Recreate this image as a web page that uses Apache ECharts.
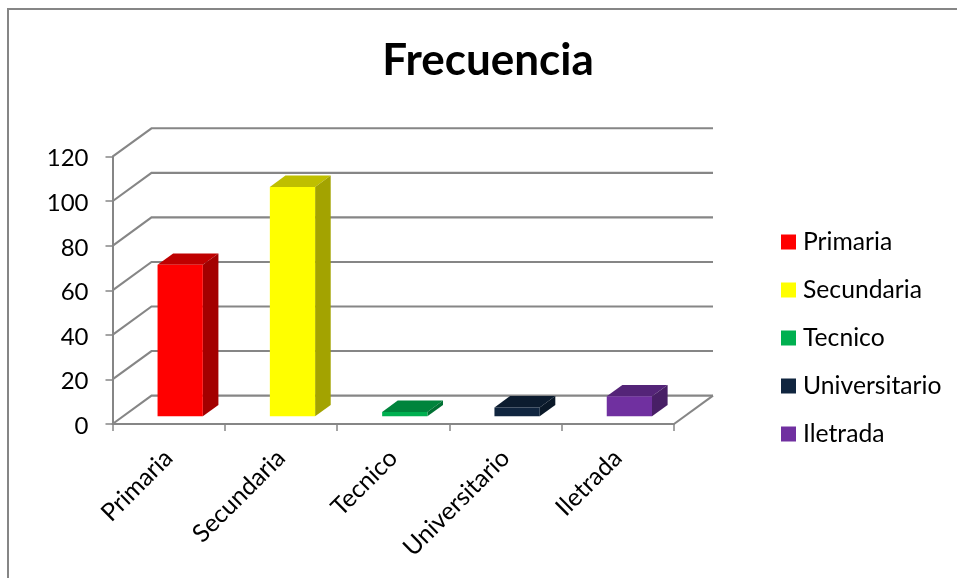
<!DOCTYPE html>
<html>
<head>
<meta charset="utf-8">
<style>html,body{margin:0;padding:0;background:#fff}#c{width:957px;height:578px}</style>
<script src="https://cdn.jsdelivr.net/npm/echarts@6/dist/echarts.min.js"></script>
</head>
<body>
<div id="c"></div>
<script>
const chartTitle = 'Frecuencia';
const categories = ['Primaria', 'Secundaria', 'Tecnico', 'Universitario', 'Iletrada'];
const values = [68, 103, 2, 4, 9];
const colors = ['#FF0000', '#FFFF00', '#00B050', '#10253F', '#7030A0'];
const yTicks = [0, 20, 40, 60, 80, 100, 120];

const GREY = '#868686';
const FONT = 'Lato';
// Oblique projection of the depth axis, as a fraction of one category band
const DEPTH_X = 39 / 112.3;
const DEPTH_Y = 28.4 / 112.3;
const BAR_WIDTH = 0.403;
const BAR_NEAR = 0.27;
const BAR_DEEP = 0.40;

function shade(hex, f) {
  const n = parseInt(hex.slice(1), 16);
  const c = [(n >> 16) & 255, (n >> 8) & 255, n & 255].map(v => Math.round(v * f));
  return 'rgb(' + c.join(',') + ')';
}

function renderWall(params, api) {
  const v = api.value(0);
  const band = api.size([1, 0])[0];
  const dx = band * DEPTH_X, dy = band * DEPTH_Y;
  const a = api.coord([0, v]);
  const x0 = a[0] - band / 2, y = a[1];
  const x1 = x0 + band * categories.length;
  const style = { stroke: GREY, lineWidth: 2.1, fill: null };
  const children = [{
    type: 'polyline',
    shape: { points: [[x0, y], [x0 + dx, y - dy], [x1 + dx, y - dy]] },
    style: style
  }];
  if (v === 0) {
    children.push({
      type: 'line',
      shape: { x1: x1, y1: y, x2: x1 + dx, y2: y - dy },
      style: style
    });
  }
  return { type: 'group', children: children };
}

function renderBar(params, api) {
  const color = api.visual('color');
  const band = api.size([1, 0])[0];
  const base = api.coord([api.value(0), 0]);
  const top = api.coord([api.value(0), api.value(1)]);
  const w = band * BAR_WIDTH;
  const nx = band * DEPTH_X * BAR_NEAR, ny = band * DEPTH_Y * BAR_NEAR;
  const dx = band * DEPTH_X * BAR_DEEP, dy = band * DEPTH_Y * BAR_DEEP;
  const l = base[0] + nx - w / 2 + 1, r = l + w;
  const b = base[1] - ny, t = top[1] - ny;
  return {
    type: 'group',
    children: [
      { type: 'polygon', shape: { points: [[l, t], [r, t], [r + dx, t - dy], [l + dx, t - dy]] }, style: { fill: shade(color, 0.75) } },
      { type: 'polygon', shape: { points: [[r, t], [r + dx, t - dy], [r + dx, b - dy], [r, b]] }, style: { fill: shade(color, 0.64) } },
      { type: 'rect', shape: { x: l, y: t, width: w, height: b - t }, style: { fill: color } }
    ]
  };
}

const chart = echarts.init(document.getElementById('c'), null, { renderer: 'canvas' });

const barSeries = categories.map((name, i) => ({
  name: name,
  type: 'custom',
  renderItem: renderBar,
  itemStyle: { color: colors[i] },
  encode: { x: 0, y: 1 },
  data: [[i, values[i]]],
  z: 3,
  silent: true
}));

chart.setOption({
  animation: false,
  backgroundColor: '#fff',
  title: {
    text: chartTitle,
    left: 483,
    top: 34,
    textAlign: 'center',
    textStyle: { fontFamily: FONT, fontWeight: 'bold', fontSize: 44, color: '#000' }
  },
  legend: {
    orient: 'vertical',
    left: 781,
    top: 228,
    icon: 'rect',
    itemWidth: 15,
    itemHeight: 15,
    itemGap: 20,
    padding: 0,
    data: categories,
    selectedMode: false,
    textStyle: { fontFamily: FONT, fontSize: 24.7, color: '#000', padding: [3, 0, 0, 2], lineHeight: 25 }
  },
  grid: { left: 112.5, right: 283, top: 156.7, bottom: 154 },
  xAxis: {
    type: 'category',
    data: categories,
    axisLine: { lineStyle: { color: GREY, width: 2 } },
    axisTick: { show: true, length: 7, lineStyle: { color: GREY, width: 1.5 } },
    axisLabel: { rotate: 45, margin: 30, interval: 0, fontFamily: FONT, fontSize: 24.7, color: '#000' },
    splitLine: { show: false }
  },
  yAxis: {
    type: 'value',
    min: 0,
    max: 120,
    interval: 20,
    axisLine: { show: true, lineStyle: { color: GREY, width: 2 } },
    axisTick: { show: true, length: 7, lineStyle: { color: GREY, width: 1.5 } },
    axisLabel: { margin: 24, fontFamily: FONT, fontSize: 24, color: '#000', verticalAlign: 'top', lineHeight: 4 },
    splitLine: { show: false }
  },
  graphic: [{
    type: 'polyline',
    shape: { points: [[8, 578], [8, 9], [957, 9]] },
    style: { stroke: GREY, lineWidth: 2, fill: null },
    silent: true
  }],
  series: [{
    name: 'wall',
    type: 'custom',
    renderItem: renderWall,
    encode: { y: 0 },
    data: yTicks.map(v => [v]),
    z: 1,
    silent: true
  }].concat(barSeries)
});
</script>
</body>
</html>
